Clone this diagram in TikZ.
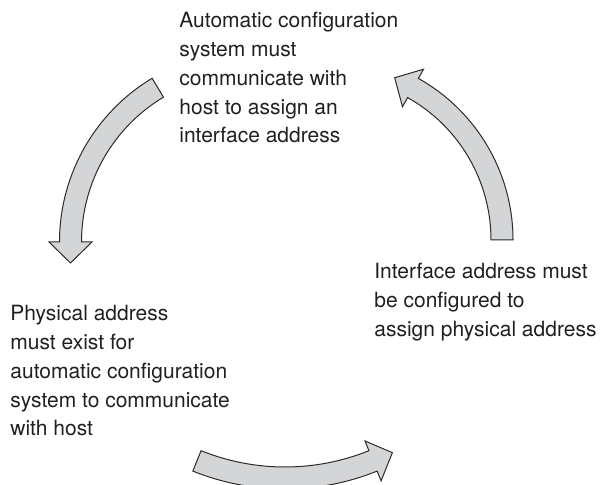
\documentclass[tikz,border=0pt]{standalone}
\usepackage{fontspec}
\setmainfont{TeX Gyre Heros}
\usepackage{tikz}
\usetikzlibrary{calc}
\definecolor{arrowfill}{HTML}{D4D5D7}
\definecolor{arrowline}{HTML}{2B2B2B}
\definecolor{ink}{HTML}{231F20}
% curved block arrow: centre, radius, tail angle, head angle, tip direction
\newcommand{\bendarrow}[5]{%
  \draw[blockarrow] ($(#1)+(#3:#2+11)$) arc[start angle=#3,end angle=#4,radius=#2+11]
    -- ($(#1)+(#4:#2+21.5)$)
    -- ($(#1)+(#4:#2)+(#5:21)$)
    -- ($(#1)+(#4:#2-21.5)$)
    -- ($(#1)+(#4:#2-11)$)
    arc[start angle=#4,end angle=#3,radius=#2-11] -- cycle;}

\begin{document}
\begin{tikzpicture}[
    x=0.5pt,y=0.5pt,
    txt/.style={anchor=north west,inner sep=0pt,align=left,text=ink,
                font=\fontsize{10.5}{14.4}\selectfont},
    blockarrow/.style={draw=arrowline,fill=arrowfill,line width=0.5pt,line join=miter}
  ]
  \clip (0,0) rectangle (603,485);

  % the three steps
  \node[txt] (cfg)   at (179,473) {Automatic configuration\\system must\\communicate with\\host to assign an\\interface address};
  \node[txt] (phys)  at (10,180)  {Physical address\\must exist for\\automatic configuration\\system to communicate\\with host};
  \node[txt] (iface) at (374,222) {Interface address must\\be configured to\\assign physical address};

  % arc centres
  \coordinate (lc) at (250.5,243);
  \coordinate (rc) at (327.7,245);
  \coordinate (bc) at (285,242);

  % arrows
  \bendarrow{lc}{180}{121}{180}{270}
  \bendarrow{bc}{235}{248}{292}{23}
  \bendarrow{rc}{174.3}{0}{60.7}{150.7}

\end{tikzpicture}
\end{document}
